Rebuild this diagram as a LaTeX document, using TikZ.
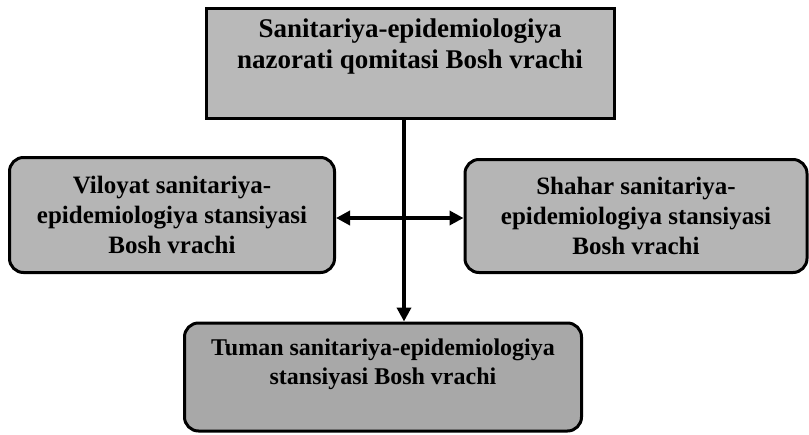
\documentclass[tikz,border=0pt]{standalone}
\usepackage{fontspec}
\setmainfont{Liberation Serif}
\usetikzlibrary{arrows.meta,calc}
\begin{document}
\begin{tikzpicture}[x=1pt,y=-1pt,
  box/.style={draw=black, line width=3pt, align=center, inner sep=0pt,
    font=\fontsize{25}{30}\selectfont\bfseries, text=black},
  roundbox/.style={box, rounded corners=14pt},
  link/.style={line width=3.5pt, -{Triangle[length=14pt,width=14pt]}}
]
\useasboundingbox (0,0) rectangle (809,434);

% text depth lifts the two-line labels above the box centre
\node[box, fill=gray!55, minimum width=408pt, minimum height=110pt, text depth=38pt,
  font=\fontsize{27}{31}\selectfont\bfseries] (top) at (410,63)
  {Sanitariya-epidemiologiya\\nazorati qomitasi Bosh vrachi};

\node[roundbox, fill=gray!58, minimum width=325pt, minimum height=115pt] (left) at (172,215)
  {Viloyat sanitariya-\\epidemiologiya stansiyasi\\Bosh vrachi};

\node[roundbox, fill=gray!58, minimum width=342pt, minimum height=113pt] (right) at (636,216)
  {Shahar sanitariya-\\epidemiologiya stansiyasi\\Bosh vrachi};

\node[roundbox, fill=gray!68, minimum width=397pt, minimum height=108pt, text depth=30pt,
  font=\fontsize{24}{29}\selectfont\bfseries] (bot) at (383,377)
  {Tuman sanitariya-epidemiologiya\\stansiyasi Bosh vrachi};

\coordinate (j) at (404,218);
\draw[link] (j |- top.south) -- (j |- bot.north);
\draw[link] (j) -- (j -| left.east);
\draw[link] (j) -- (j -| right.west);
\end{tikzpicture}
\end{document}
